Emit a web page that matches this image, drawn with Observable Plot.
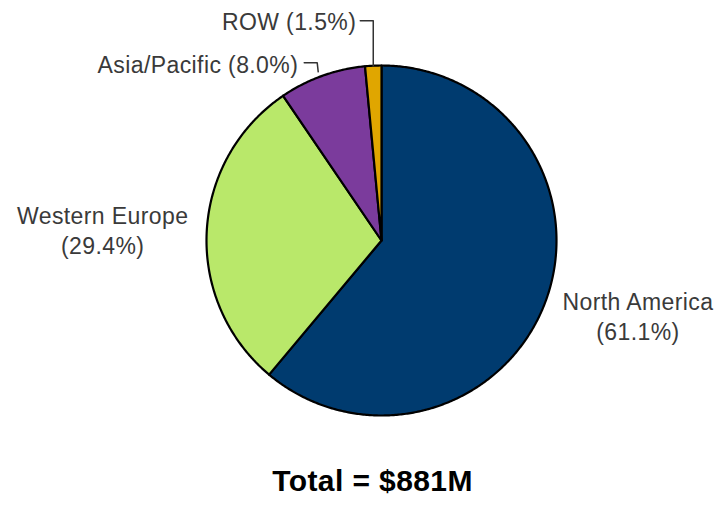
<!DOCTYPE html>
<html><head><meta charset="utf-8">
<script src="https://cdn.jsdelivr.net/npm/d3@7"></script>
<script src="https://cdn.jsdelivr.net/npm/@observablehq/plot@0.6"></script>
<style>
body{margin:0;background:#fff}
#chart svg text{letter-spacing:0.4px}
</style>
</head><body><div id="chart"></div>
<script>
// ---- data ----
const regions = ["North America", "Western Europe", "Asia/Pacific", "ROW"];
const shares = [61.1, 29.4, 8.0, 1.5];
const colors = ["#003b6f", "#b9e86a", "#7b3b9c", "#e0a600"];
const totalLabel = "Total = $881M";

// ---- layout ----
const W = 718, H = 512, cx = 381, cy = 240, R = 175;
const labelLayout = {
  "North America": {dx: 92, dy: 15, anchor: "middle", wrap: true},
  "Western Europe": {dx: -104, dy: -2, anchor: "middle", wrap: true},
  "Asia/Pacific": {dx: -24, dy: -10, anchor: "end", wrap: false,
                   leader: [[-4, -4], [-5, -13], [-18, -13]]},
  "ROW": {dx: -17, dy: -43, anchor: "end", wrap: false,
          leader: [[0, 0], [0, -45], [-13, -45]]}
};

const arcs = d3.pie().sort(null).value(d => d)(shares);
const pt = (a, r = R) => [cx + r * Math.sin(a), cy - r * Math.cos(a)];

const slicePts = [];
const labels = [];
const leaders = [];
arcs.forEach((p, i) => {
  const name = regions[i];
  slicePts.push({name, x: cx, y: cy});
  const span = p.endAngle - p.startAngle;
  const n = Math.max(4, Math.ceil(span / (Math.PI / 360)));
  for (let k = 0; k <= n; k++) {
    const [x, y] = pt(p.startAngle + span * k / n);
    slicePts.push({name, x, y});
  }
  slicePts.push({name, x: cx, y: cy});

  const mid = (p.startAngle + p.endAngle) / 2;
  const [ex, ey] = pt(mid);
  const L = labelLayout[name];
  const pct = "(" + shares[i].toFixed(1) + "%)";
  labels.push({
    name, anchor: L.anchor,
    x: ex + L.dx, y: ey + L.dy,
    text: L.wrap ? name + "\n" + pct : name + " " + pct
  });
  if (L.leader) L.leader.forEach(([ox, oy]) => leaders.push({name, x: ex + ox, y: ey + oy}));
});

const chart = Plot.plot({
  width: W, height: H, margin: 0,
  x: {domain: [0, W], range: [0, W], axis: null},
  y: {domain: [0, H], range: [0, H], axis: null},
  color: {domain: regions, range: colors},
  style: {fontFamily: "'Liberation Sans', Arial, sans-serif", background: "#fff"},
  marks: [
    Plot.line(slicePts, {x: "x", y: "y", z: "name", fill: "name", stroke: "#000",
                         strokeWidth: 2.2, strokeLinejoin: "round"}),
    Plot.line(leaders, {x: "x", y: "y", z: "name", stroke: "#333", strokeWidth: 1.5}),
    Plot.text(labels.filter(d => d.anchor === "middle"),
      {x: "x", y: "y", text: "text", textAnchor: "middle", fontSize: 23, lineHeight: 1.3, fill: "#3a3a3a"}),
    Plot.text(labels.filter(d => d.anchor === "end"),
      {x: "x", y: "y", text: "text", textAnchor: "end", fontSize: 23, fill: "#3a3a3a"}),
    Plot.text([totalLabel], {text: d => d, frameAnchor: "bottom", dx: 13, dy: -22,
      fontSize: 30, fontWeight: "bold", fill: "#000"})
  ]
});
document.getElementById("chart").appendChild(chart);
</script>
</body></html>
